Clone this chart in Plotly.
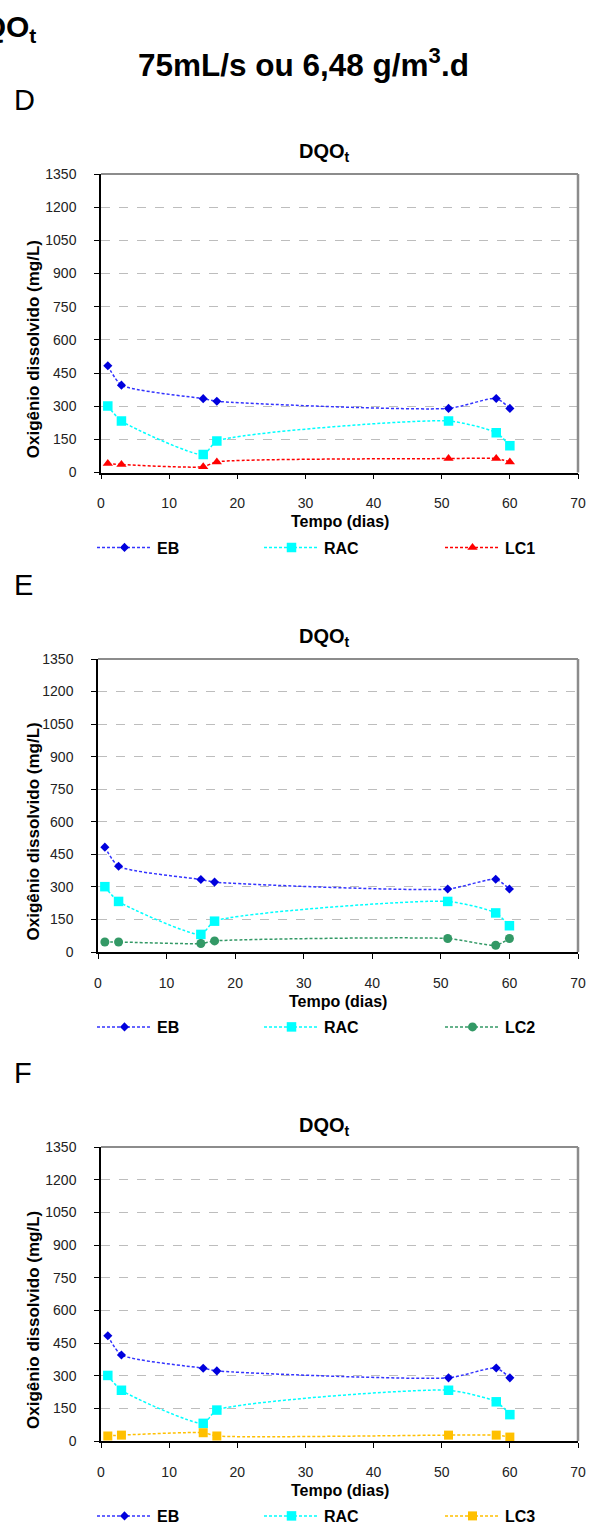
import plotly.graph_objects as go

# ---------------- data ----------------
days = [1, 3, 15, 17, 51, 58, 60]
eb = [483, 395, 334, 322, 290, 335, 290]
rac = [301, 233, 81, 142, 233, 180, 121]
lc1 = [41, 36, 26, 48, 63, 63, 48]
lc2 = [46, 46, 39, 51, 62, 31, 62]
lc3 = [23, 27, 38, 23, 27, 27, 18]

panel_labels = ["D", "E", "F"]
panel_series = ["LC1", "LC2", "LC3"]
y_ticks = [0, 150, 300, 450, 600, 750, 900, 1050, 1200, 1350]
x_ticks = [0, 10, 20, 30, 40, 50, 60, 70]

W, H = 591, 1528
FONT = "Liberation Sans, Arial, sans-serif"


def px(x):
    return x / W


def py(y):
    return 1 - y / H


# panel geometry in pixels: (x_left, x_right, y_top, y_bottom)
panels = [
    (101, 578, 174, 472.5),
    (98, 578, 659, 952),
    (101, 578, 1147, 1441),
]
legend_item_starts = [92, 259, 440]   # pixel x where each legend box begins

third = {
    "LC1": dict(values=lc1, color="#FF0000", symbol="triangle-up", size=9),
    "LC2": dict(values=lc2, color="#339966", symbol="circle", size=9),
    "LC3": dict(values=lc3, color="#FFC000", symbol="square", size=9),
}

fig = go.Figure()
layout = dict(
    width=W, height=H, autosize=False,
    margin=dict(l=0, r=0, t=0, b=0, autoexpand=False),
    paper_bgcolor="white", plot_bgcolor="white",
    font=dict(family=FONT, color="#000"),
    showlegend=True,
)
annotations = []
shapes = []
leg_n = 0

for i, (xl, xr, yt, yb) in enumerate(panels):
    sfx = "" if i == 0 else str(i + 1)
    xa, ya = "x" + sfx, "y" + sfx
    name3 = panel_series[i]
    t3 = third[name3]

    series = [
        ("EB", eb, "#3333FF", "#0000DD", "diamond", 7),
        ("RAC", rac, "#00FFFF", "#00FFFF", "square", 9.5),
        (name3, t3["values"], t3["color"], t3["color"], t3["symbol"], t3["size"]),
    ]
    for k, (name, vals, lc, mc, sym, sz) in enumerate(series):
        leg_n += 1
        leg = "legend" if leg_n == 1 else "legend%d" % leg_n
        fig.add_trace(go.Scatter(
            x=days, y=vals, name=name, mode="lines+markers",
            xaxis=xa, yaxis=ya, legend=leg,
            line=dict(color=lc, width=1.5, dash="3px,2px", shape="spline", smoothing=0.6),
            marker=dict(symbol=sym, size=sz, color=mc, line=dict(width=0)),
        ))
        layout[leg] = dict(
            orientation="h", x=px(legend_item_starts[k]), y=py(yb + 75),
            xanchor="left", yanchor="middle",
            font=dict(family=FONT, size=16, color="#000", weight="bold"),
            itemwidth=55, bgcolor="rgba(0,0,0,0)", borderwidth=0,
            itemclick=False, itemdoubleclick=False,
        )

    layout["xaxis" + sfx] = dict(
        domain=[px(xl), px(xr)], anchor=ya, range=[0, 70], automargin=False,
        tickvals=x_ticks, ticks="outside", ticklen=5, tickcolor="#000",
        showline=True, linecolor="#000", linewidth=1.5,
        showgrid=False, zeroline=False, fixedrange=True,
        tickfont=dict(family=FONT, size=14, color="#222"),
        ticklabelstandoff=12,
    )
    layout["yaxis" + sfx] = dict(
        domain=[py(yb), py(yt)], anchor=xa, range=[0, 1350], automargin=False,
        tickvals=y_ticks, ticks="outside", ticklen=5, tickcolor="#000",
        showline=True, linecolor="#000", linewidth=1.5,
        showgrid=True, gridcolor="#BDBDBD", griddash="dash", gridwidth=1,
        zeroline=False, fixedrange=True,
        tickfont=dict(family=FONT, size=14, color="#222"),
        ticklabelstandoff=15,
    )
    # gray top / right frame of the plot area
    shapes.append(dict(type="line", xref=xa + " domain", yref=ya + " domain",
                       x0=0, x1=1, y0=1, y1=1, line=dict(color="#8C8C8C", width=2)))
    shapes.append(dict(type="line", xref=xa + " domain", yref=ya + " domain",
                       x0=1, x1=1, y0=0, y1=1, line=dict(color="#8C8C8C", width=2.5)))

    # panel letter
    annotations.append(dict(text=panel_labels[i], x=px(12), y=py(yt - 74), xref="paper", yref="paper",
                            xanchor="left", yanchor="middle", showarrow=False,
                            font=dict(family=FONT, size=29, color="#000")))
    # panel title
    annotations.append(dict(text="<b>DQO<sub>t</sub></b>", x=px(325), y=py(yt - 21), xref="paper", yref="paper",
                            xanchor="center", yanchor="middle", showarrow=False,
                            font=dict(family=FONT, size=20, color="#000")))
    # x title
    annotations.append(dict(text="<b>Tempo (dias)</b>", x=px((xl + xr) / 2), y=py(yb + 49), xref="paper", yref="paper",
                            xanchor="center", yanchor="middle", showarrow=False,
                            font=dict(family=FONT, size=16, color="#000")))
    # y title
    annotations.append(dict(text="<b>Oxigênio dissolvido (mg/L)</b>", x=px(33), y=py((yt + yb) / 2 + 26),
                            xref="paper", yref="paper", textangle=-90,
                            xanchor="center", yanchor="middle", showarrow=False,
                            font=dict(family=FONT, size=17, color="#000")))

# top texts
annotations.append(dict(text="<b>DQO<sub>t</sub></b>", x=px(38), y=py(29), xref="paper", yref="paper",
                        xanchor="right", yanchor="middle", showarrow=False,
                        font=dict(family=FONT, size=30, color="#000")))
annotations.append(dict(text="<b>75mL/s ou 6,48 g/m<sup>3</sup>.d</b>", x=px(303), y=py(63), xref="paper", yref="paper",
                        xanchor="center", yanchor="middle", showarrow=False,
                        font=dict(family=FONT, size=31.5, color="#000")))

layout["annotations"] = annotations
layout["shapes"] = shapes
fig.update_layout(**layout)
fig.write_html(
    "out.html",
    config={"displayModeBar": False},
    post_script="document.body.style.margin='0px';document.body.style.overflow='hidden';",
)
